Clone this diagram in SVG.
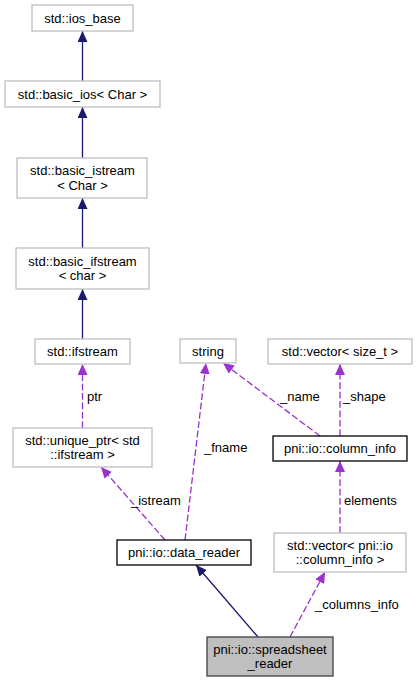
<svg xmlns="http://www.w3.org/2000/svg" width="417" height="683" viewBox="0 0 417 683">
<style>
text{font-family:"Liberation Sans",Arial,sans-serif;font-size:13px;fill:#000}
.n{text-anchor:middle}
.ext{fill:#fff;stroke:#bfbfbf;stroke-width:1.3}
.doc{fill:#fff;stroke:#000;stroke-width:1.3}
.root{fill:#bfbfbf;stroke:#404040;stroke-width:1.3}
.inh{fill:none;stroke:#191970;stroke-width:1.3;marker-end:url(#ah)}
.use{fill:none;stroke:#9a32cd;stroke-width:1.3;stroke-dasharray:6.7,2.7;marker-end:url(#ap)}
</style>
<defs>
<marker id="ah" viewBox="0 0 11 10" refX="11" refY="5" markerWidth="11" markerHeight="10" markerUnits="userSpaceOnUse" orient="auto"><path d="M0,0 L11,5 L0,10 z" fill="#191970"/></marker>
<marker id="ap" viewBox="0 0 11 10" refX="11" refY="5" markerWidth="11" markerHeight="10" markerUnits="userSpaceOnUse" orient="auto"><path d="M0,0 L11,5 L0,10 z" fill="#9a32cd"/></marker>
</defs>
<rect width="417" height="683" fill="#fff"/>
<g id="connectors">
<path class="inh" d="M82.5,81 L82.5,31"/>
<path class="inh" d="M82.5,158 L82.5,107"/>
<path class="inh" d="M82.5,248 L82.5,198"/>
<path class="inh" d="M82.5,339 L82.5,289"/>
<path class="use" d="M82.5,428 L82.5,364"/>
<text x="87" y="401">ptr</text>
<path class="use" d="M165,540 L101,467"/>
<text x="131" y="504.5">_istream</text>
<path class="use" d="M185,540 L206,363"/>
<text x="204" y="451.5">_fname</text>
<path class="use" d="M320,436 L223,363"/>
<text x="280" y="400.5">_name</text>
<path class="use" d="M340,436 L340,364"/>
<text x="343" y="400.5">_shape</text>
<path class="use" d="M340,533 L340,461"/>
<text x="344" y="504.5">elements</text>
<path class="inh" d="M258,637 L196,565"/>
<path class="use" d="M290,637 L325,572"/>
<text x="315" y="608.5">_columns_info</text>
</g>
<g id="ios_base"><rect class="ext" x="32" y="5" width="101" height="26"/><text class="n" x="82.5" y="22.5">std::ios_base</text></g>
<g id="basic_ios"><rect class="ext" x="5" y="81" width="155" height="26"/><text class="n" x="82.5" y="98.5">std::basic_ios&lt; Char &gt;</text></g>
<g id="basic_istream"><rect class="ext" x="17" y="158" width="130" height="40"/><text class="n" x="82.5" y="174.5">std::basic_istream</text><text class="n" x="82.5" y="189.5">&lt; Char &gt;</text></g>
<g id="basic_ifstream"><rect class="ext" x="16" y="248" width="133" height="41"/><text class="n" x="82.5" y="265.5">std::basic_ifstream</text><text class="n" x="82.5" y="279.5">&lt; char &gt;</text></g>
<g id="ifstream"><rect class="ext" x="35" y="339" width="95" height="25"/><text class="n" x="82.5" y="356">std::ifstream</text></g>
<g id="unique_ptr"><rect class="ext" x="13" y="428" width="139" height="39"/><text class="n" x="82.5" y="444.5">std::unique_ptr&lt; std</text><text class="n" x="82.5" y="458.5">::ifstream &gt;</text></g>
<g id="data_reader"><rect class="doc" x="117" y="540" width="134" height="25"/><text class="n" x="184" y="557">pni::io::data_reader</text></g>
<g id="spreadsheet_reader"><rect class="root" x="207" y="637" width="126" height="39"/><text class="n" x="270" y="653.5">pni::io::spreadsheet</text><text class="n" x="270" y="667.5">_reader</text></g>
<g id="string"><rect class="ext" x="180" y="339" width="56" height="24"/><text class="n" x="208" y="356">string</text></g>
<g id="vector_size_t"><rect class="ext" x="268" y="339" width="144" height="25"/><text class="n" x="340" y="356">std::vector&lt; size_t &gt;</text></g>
<g id="column_info"><rect class="doc" x="273" y="436" width="134" height="25"/><text class="n" x="340" y="453">pni::io::column_info</text></g>
<g id="vector_column_info"><rect class="ext" x="274" y="533" width="132" height="39"/><text class="n" x="340" y="549.5">std::vector&lt; pni::io</text><text class="n" x="340" y="563.5">::column_info &gt;</text></g>
</svg>
